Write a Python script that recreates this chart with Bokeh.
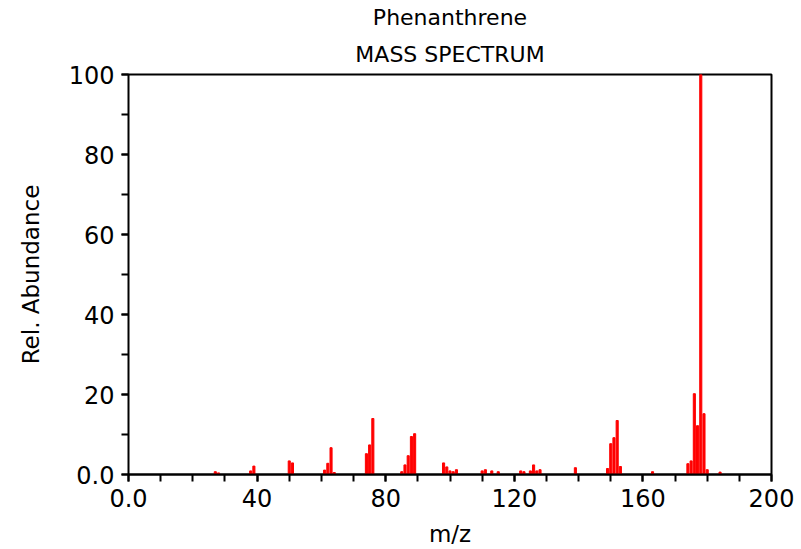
from bokeh.plotting import figure
from bokeh.models import Range1d, SingleIntervalTicker, Title
from bokeh.embed import file_html
from bokeh.resources import INLINE

# m/z values and relative abundances
mz = [27, 28, 38, 39, 50, 51, 61, 62, 63, 64,
      74, 75, 76, 85, 86, 87, 88, 89,
      98, 99, 100, 101, 102, 110, 111, 113, 115,
      122, 123, 125, 126, 127, 128, 139,
      149, 150, 151, 152, 153, 163,
      174, 175, 176, 177, 178, 179, 180, 184]
abundance = [0.7, 0.4, 0.9, 2.1, 3.4, 2.9, 1.1, 2.8, 6.7, 0.5,
             5.2, 7.4, 14.0, 0.7, 2.4, 4.7, 9.5, 10.2,
             2.9, 1.9, 0.9, 0.7, 1.2, 0.9, 1.2, 0.9, 0.7,
             0.9, 0.7, 0.9, 2.4, 0.9, 1.2, 1.7,
             1.5, 7.7, 9.2, 13.5, 2.0, 0.7,
             2.7, 3.4, 20.2, 12.2, 100.0, 15.2, 1.2, 0.6]

x_label_overrides = {0: "0.0"}
y_label_overrides = {0: "0.0"}

FONT = "DejaVu Sans"

p = figure(width=801, height=549, output_backend="svg", toolbar_location=None,
           x_range=Range1d(0, 200), y_range=Range1d(0, 100),
           min_border_left=128, min_border_right=30, min_border_top=74,
           min_border_bottom=75)

p.vbar(x=mz, top=abundance, width=0.65, color="#ff0000")

p.xgrid.visible = False
p.ygrid.visible = False
p.outline_line_color = "black"
p.outline_line_width = 2
p.outline_line_alpha = 1

p.xaxis.ticker = SingleIntervalTicker(interval=40, num_minor_ticks=4)
p.yaxis.ticker = SingleIntervalTicker(interval=20, num_minor_ticks=2)
p.xaxis.major_label_overrides = x_label_overrides
p.yaxis.major_label_overrides = y_label_overrides

for ax in (p.xaxis[0], p.yaxis[0]):
    ax.major_tick_in = 0
    ax.minor_tick_in = 0
    ax.major_tick_out = 7
    ax.minor_tick_out = 7
    ax.major_tick_line_width = 2
    ax.minor_tick_line_width = 2
    ax.major_tick_line_color = "black"
    ax.minor_tick_line_color = "black"
    ax.axis_line_color = "black"
    ax.major_label_text_font = FONT
    ax.major_label_text_font_size = "24px"
    ax.major_label_text_color = "black"
    ax.axis_label_text_font = FONT
    ax.axis_label_text_font_size = "23px"
    ax.axis_label_text_font_style = "normal"
    ax.axis_label_text_color = "black"

p.xaxis.axis_line_width = 2
p.yaxis.axis_line_width = 1
p.xaxis.axis_label = "m/z"
p.yaxis.axis_label = "Rel. Abundance"
p.xaxis.major_label_standoff = 7
p.yaxis.major_label_standoff = 7
p.xaxis.axis_label_standoff = 11
p.yaxis.axis_label_standoff = 22

t2 = Title(text="MASS SPECTRUM", align="center", text_font=FONT,
           text_font_size="22px", text_font_style="normal", text_color="black",
           standoff=16)
t1 = Title(text="Phenanthrene", align="center", text_font=FONT,
           text_font_size="22px", text_font_style="normal", text_color="black",
           standoff=4)
p.add_layout(t2, "above")
p.add_layout(t1, "above")

open("out.html", "w").write(file_html(p, INLINE))
